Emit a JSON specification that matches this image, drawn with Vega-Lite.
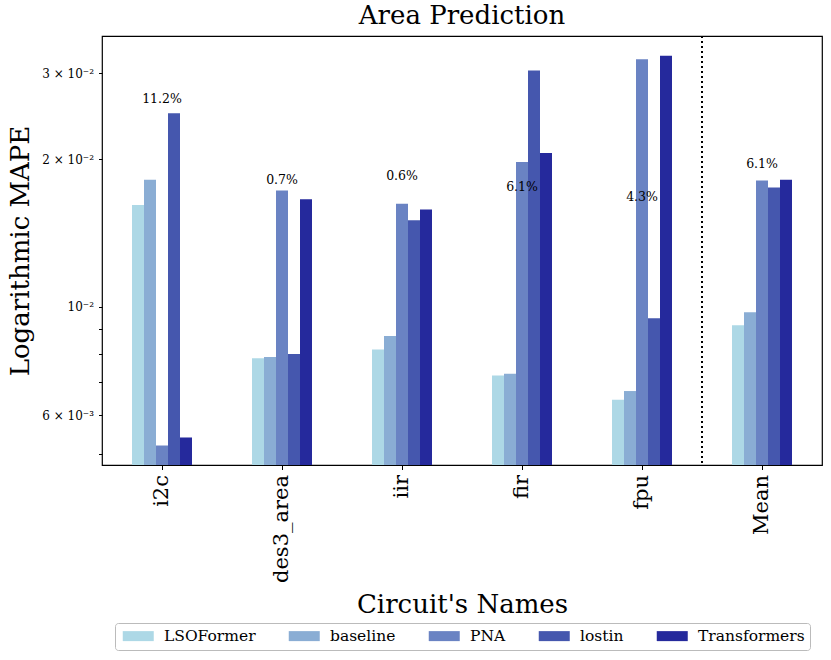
{
  "$schema": "https://vega.github.io/schema/vega-lite/v6.json",
  "width": 720,
  "height": 429,
  "autosize": "none",
  "padding": {"left": 102, "top": 36, "right": 9, "bottom": 195},
  "background": "white",
  "config": {
    "font": "DejaVu Serif",
    "view": {"stroke": "black", "strokeWidth": 1.2},
    "axis": {
      "domain": false,
      "grid": false,
      "tickColor": "black",
      "labelColor": "black",
      "titleColor": "black",
      "labelFont": "DejaVu Serif",
      "titleFont": "DejaVu Serif",
      "titleFontWeight": "normal"
    }
  },
  "title": {
    "text": "Area Prediction",
    "font": "DejaVu Serif",
    "fontSize": 26,
    "fontWeight": "normal",
    "color": "black",
    "offset": 6
  },
  "datasets": {
    "scores": [
      {"circuit": "i2c", "model": "LSOFormer", "value": 0.01614},
      {"circuit": "i2c", "model": "baseline", "value": 0.01816},
      {"circuit": "i2c", "model": "PNA", "value": 0.0052},
      {"circuit": "i2c", "model": "lostin", "value": 0.02486},
      {"circuit": "i2c", "model": "Transformers", "value": 0.0054},
      {"circuit": "des3_area", "model": "LSOFormer", "value": 0.00784},
      {"circuit": "des3_area", "model": "baseline", "value": 0.00789},
      {"circuit": "des3_area", "model": "PNA", "value": 0.01727},
      {"circuit": "des3_area", "model": "lostin", "value": 0.008},
      {"circuit": "des3_area", "model": "Transformers", "value": 0.01658},
      {"circuit": "iir", "model": "LSOFormer", "value": 0.00817},
      {"circuit": "iir", "model": "baseline", "value": 0.00871},
      {"circuit": "iir", "model": "PNA", "value": 0.01622},
      {"circuit": "iir", "model": "lostin", "value": 0.01502},
      {"circuit": "iir", "model": "Transformers", "value": 0.01579},
      {"circuit": "fir", "model": "LSOFormer", "value": 0.00723},
      {"circuit": "fir", "model": "baseline", "value": 0.00729},
      {"circuit": "fir", "model": "PNA", "value": 0.01976},
      {"circuit": "fir", "model": "lostin", "value": 0.03038},
      {"circuit": "fir", "model": "Transformers", "value": 0.02062},
      {"circuit": "fpu", "model": "LSOFormer", "value": 0.00645},
      {"circuit": "fpu", "model": "baseline", "value": 0.00672},
      {"circuit": "fpu", "model": "PNA", "value": 0.03206},
      {"circuit": "fpu", "model": "lostin", "value": 0.00947},
      {"circuit": "fpu", "model": "Transformers", "value": 0.03256},
      {"circuit": "Mean", "model": "LSOFormer", "value": 0.00916},
      {"circuit": "Mean", "model": "baseline", "value": 0.00974},
      {"circuit": "Mean", "model": "PNA", "value": 0.0181},
      {"circuit": "Mean", "model": "lostin", "value": 0.01751},
      {"circuit": "Mean", "model": "Transformers", "value": 0.01816}
    ],
    "notes": [
      {"circuit": "i2c", "label": "11.2%", "pos": 0.02659},
      {"circuit": "des3_area", "label": "0.7%", "pos": 0.01816},
      {"circuit": "iir", "label": "0.6%", "pos": 0.01851},
      {"circuit": "fir", "label": "6.1%", "pos": 0.0176},
      {"circuit": "fpu", "label": "4.3%", "pos": 0.01679},
      {"circuit": "Mean", "label": "6.1%", "pos": 0.01955}
    ],
    "divider": [
      {"circuit": "Mean"}
    ]
  },
  "layer": [
    {
      "data": {"name": "scores"},
      "mark": {"type": "bar", "clip": true},
      "encoding": {
        "x": {
          "field": "circuit",
          "type": "nominal",
          "sort": ["i2c", "des3_area", "iir", "fir", "fpu", "Mean"],
          "scale": {"paddingInner": 0, "paddingOuter": 0},
          "axis": {
            "title": "Circuit's Names",
            "titleFontSize": 26,
            "titleBaseline": "alphabetic",
            "titleY": 147,
            "labelAngle": -90,
            "labelFontSize": 21,
            "tickSize": 4.5,
            "labelPadding": 5
          }
        },
        "xOffset": {
          "field": "model",
          "type": "nominal",
          "sort": ["LSOFormer", "baseline", "PNA", "lostin", "Transformers"],
          "scale": {"range": [30, 90]}
        },
        "y": {
          "field": "value",
          "type": "quantitative",
          "scale": {"type": "log", "domain": [0.004744, 0.03575], "nice": false},
          "axis": {
            "title": "Logarithmic MAPE",
            "titleFontSize": 26,
            "titleAngle": -90,
            "titleAlign": "center",
            "titleBaseline": "alphabetic",
            "titleX": -74,
            "titleY": 214.5,
            "values": [0.005, 0.006, 0.007, 0.008, 0.009, 0.01, 0.02, 0.03],
            "labelExpr": "datum.value == 0.03 ? '3 × 10⁻²' : datum.value == 0.02 ? '2 × 10⁻²' : datum.value == 0.01 ? '10⁻²' : datum.value == 0.006 ? '6 × 10⁻³' : ''",
            "labelFontSize": 12,
            "tickSize": 3.5,
            "labelPadding": 5
          }
        },
        "y2": {"datum": 0.004744},
        "color": {
          "field": "model",
          "type": "nominal",
          "scale": {
            "domain": ["LSOFormer", "baseline", "PNA", "lostin", "Transformers"],
            "range": ["#add8e6", "#8aadd4", "#6a83c3", "#4557ae", "#25299c"]
          },
          "legend": {
            "title": null,
            "orient": "none",
            "legendX": 13,
            "legendY": 587,
            "direction": "horizontal",
            "labelFont": "DejaVu Serif",
            "labelFontSize": 15.5,
            "labelColor": "black",
            "labelOffset": 18,
            "columnPadding": 30,
            "padding": 5,
            "symbolType": "M-3.1,-1L3.1,-1L3.1,1L-3.1,1Z",
            "symbolSize": 100,
            "symbolOffset": 10.5,
            "symbolStrokeWidth": 0,
            "symbolOpacity": 1,
            "strokeColor": "#bbbbbb",
            "fillColor": "white",
            "cornerRadius": 3
          }
        }
      }
    },
    {
      "data": {"name": "notes"},
      "mark": {"type": "text", "fontSize": 12.5, "baseline": "middle", "font": "DejaVu Serif", "color": "black"},
      "encoding": {
        "x": {"field": "circuit", "type": "nominal", "sort": ["i2c", "des3_area", "iir", "fir", "fpu", "Mean"]},
        "y": {"field": "pos", "type": "quantitative"},
        "text": {"field": "label"}
      }
    },
    {
      "data": {"name": "divider"},
      "mark": {"type": "rule", "color": "black", "strokeWidth": 2, "strokeDash": [2, 3]},
      "encoding": {
        "x": {"field": "circuit", "type": "nominal", "bandPosition": 0, "sort": ["i2c", "des3_area", "iir", "fir", "fpu", "Mean"]}
      }
    }
  ]
}
